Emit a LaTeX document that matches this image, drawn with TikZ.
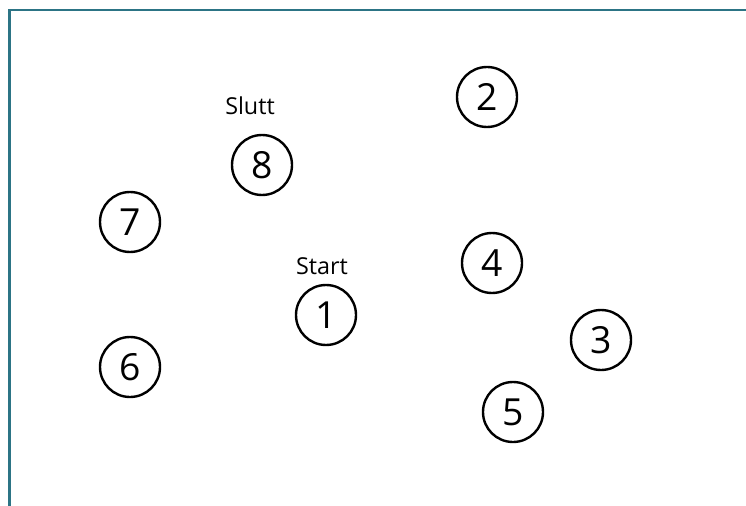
\documentclass[tikz,border=0pt]{standalone}
\usepackage{fontspec}
\setmainfont{Open Sans}
\definecolor{frame}{HTML}{2C7485}
\begin{document}
\begin{tikzpicture}[x=0.75pt,y=-0.75pt,
  num/.style={circle,draw=black,line width=1.8pt,minimum size=45pt,inner sep=0pt,font=\fontsize{28}{32}\selectfont},
  lab/.style={font=\fontsize{17.5}{20}\selectfont,inner sep=0pt}]
\useasboundingbox (0,0) rectangle (746,506);
\coordinate (tl) at (9.5,10);
\coordinate (tr) at (746,10);
\coordinate (bl) at (9.5,506);
\draw[frame,line width=2.2pt] (tr) -- (tl) -- (bl);
\node[num] (n1) at (326,315) {1};
\node[num] (n2) at (487,97) {2};
\node[num] (n3) at (601,340) {3};
\node[num] (n4) at (492,263) {4};
\node[num] (n5) at (513,412) {5};
\node[num] (n6) at (130,367) {6};
\node[num] (n7) at (130,222) {7};
\node[num] (n8) at (262,165) {8};
\node[lab] (start) at (322,266) {Start};
\node[lab] (slutt) at (250,106) {Slutt};
\end{tikzpicture}
\end{document}
